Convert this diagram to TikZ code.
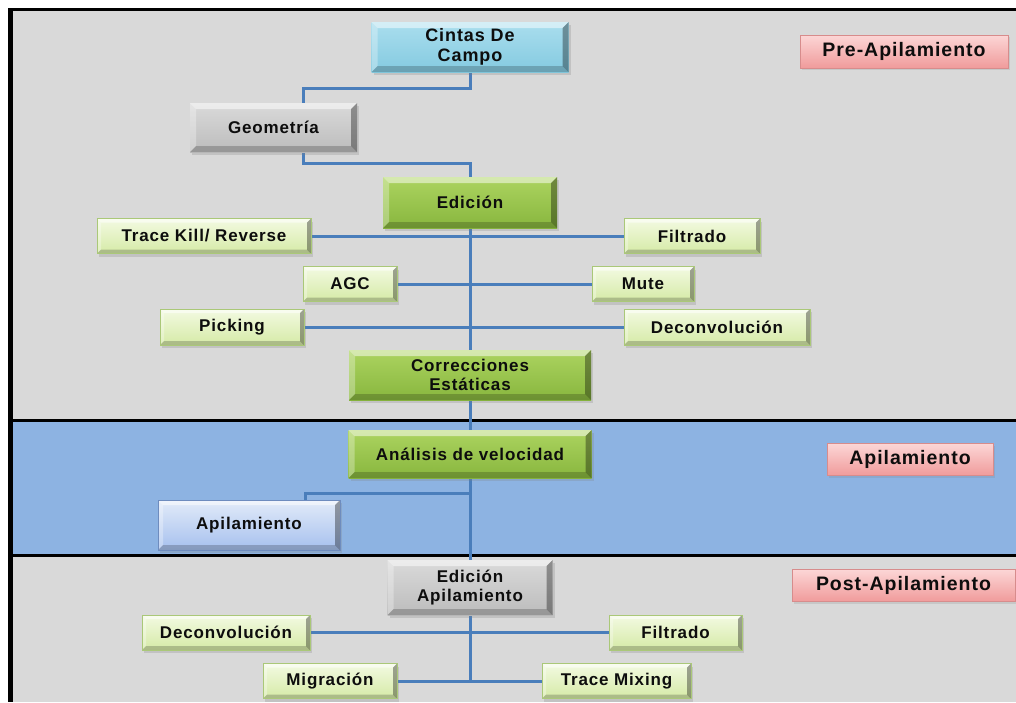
\documentclass[tikz,border=0pt]{standalone}
\usepackage{fontspec}
\setmainfont{Liberation Sans}
\newfontfamily\boxfont{Liberation Sans}[LetterSpace=5]
\usetikzlibrary{shadows}
\definecolor{bggray}{HTML}{D9D9D9}
\definecolor{bandblue}{HTML}{8DB3E2}
\definecolor{conncol}{HTML}{4A7EBB}
\definecolor{txt}{HTML}{0D0D0D}
\pgfdeclarelayer{bg}
\pgfdeclarelayer{lines}
\pgfsetlayers{bg,lines,main}
\tikzset{
  bevel/.style={path picture={
    \fill[white,opacity=.5] (path picture bounding box.north west) -- (path picture bounding box.north east)
      -- ([xshift=-#1,yshift=-#1]path picture bounding box.north east) -- ([xshift=#1,yshift=-#1]path picture bounding box.north west) -- cycle;
    \fill[white,opacity=.3] (path picture bounding box.north west) -- ([xshift=#1,yshift=-#1]path picture bounding box.north west)
      -- ([xshift=#1,yshift=#1]path picture bounding box.south west) -- (path picture bounding box.south west) -- cycle;
    \fill[black,opacity=.35] (path picture bounding box.north east) -- (path picture bounding box.south east)
      -- ([xshift=-#1,yshift=#1]path picture bounding box.south east) -- ([xshift=-#1,yshift=-#1]path picture bounding box.north east) -- cycle;
    \fill[black,opacity=.2] (path picture bounding box.south west) -- (path picture bounding box.south east)
      -- ([xshift=-#1,yshift=#1]path picture bounding box.south east) -- ([xshift=#1,yshift=#1]path picture bounding box.south west) -- cycle;
  }},
  box/.style={inner sep=0pt, align=center, text=txt,
    font=\boxfont\bfseries\fontsize{17}{19}\selectfont,
    drop shadow={shadow xshift=2pt,shadow yshift=-3pt,opacity=.25}},
  cyanbox/.style={box, top color={rgb,255:red,170;green,222;blue,238}, bottom color={rgb,255:red,132;green,202;blue,224}, bevel=6pt},
  graybox/.style={box, top color={rgb,255:red,218;green,218;blue,218}, bottom color={rgb,255:red,188;green,188;blue,188}, bevel=6pt},
  greenbox/.style={box, top color={rgb,255:red,172;green,212;blue,96}, bottom color={rgb,255:red,136;green,182;blue,62}, bevel=6pt},
  lgbox/.style={box, top color={rgb,255:red,243;green,250;blue,226}, bottom color={rgb,255:red,213;green,234;blue,166}, bevel=4pt,
    draw={rgb,255:red,170;green,200;blue,120}, line width=.8pt},
  bluebox/.style={box, top color={rgb,255:red,226;green,235;blue,249}, bottom color={rgb,255:red,166;green,192;blue,238}, bevel=5pt,
    draw={rgb,255:red,110;green,140;blue,190}, line width=.8pt},
  pinklab/.style={inner sep=0pt, text=txt, font=\boxfont\bfseries\fontsize{19.5}{22}\selectfont,
    top color={rgb,255:red,252;green,214;blue,214}, bottom color={rgb,255:red,240;green,155;blue,155},
    draw={rgb,255:red,215;green,140;blue,140}, line width=.8pt,
    drop shadow={shadow xshift=1.5pt,shadow yshift=-2pt,opacity=.2}},
  conn/.style={draw=conncol, line width=3pt}
}
\begin{document}
\begin{tikzpicture}[x=1pt,y=-1pt]
\useasboundingbox (0,0) rectangle (1016,702);
% nodes
\node[cyanbox, minimum width=197pt, minimum height=50pt, font=\boxfont\bfseries\fontsize{18}{20}\selectfont] (cintas) at (470,47) {Cintas De\\Campo};
\node[graybox, minimum width=167pt, minimum height=49pt] (geom) at (273.5,127.5) {Geometría};
\node[greenbox, minimum width=174pt, minimum height=51pt] (edic) at (470,202.5) {Edición};
\node[lgbox, minimum width=214pt, minimum height=35pt] (tk) at (204,236) {Trace Kill/ Reverse};
\node[lgbox, minimum width=136pt, minimum height=35pt] (filt1) at (692,236) {Filtrado};
\node[lgbox, minimum width=94pt, minimum height=35pt] (agc) at (350,284) {AGC};
\node[lgbox, minimum width=102pt, minimum height=35pt] (mute) at (643,284) {Mute};
\node[lgbox, minimum width=144pt, minimum height=36pt] (pick) at (232,327) {Picking};
\node[lgbox, minimum width=186pt, minimum height=36pt] (dec1) at (717,327) {Deconvolución};
\node[greenbox, minimum width=242pt, minimum height=50pt] (corr) at (470,375) {Correcciones\\Estáticas};
\node[greenbox, minimum width=243pt, minimum height=48pt] (anal) at (470,454) {Análisis de velocidad};
\node[bluebox, minimum width=182pt, minimum height=50pt] (apil) at (249,525) {Apilamiento};
\node[graybox, minimum width=165pt, minimum height=55pt] (edap) at (470,587.5) {Edición\\Apilamiento};
\node[lgbox, minimum width=168pt, minimum height=35pt] (dec2) at (226,632.5) {Deconvolución};
\node[lgbox, minimum width=133pt, minimum height=35pt] (filt2) at (675.5,632.5) {Filtrado};
\node[lgbox, minimum width=134pt, minimum height=35pt] (migr) at (330,681) {Migración};
\node[lgbox, minimum width=149pt, minimum height=35pt] (tmix) at (616.5,681) {Trace Mixing};
\node[pinklab, minimum width=208pt, minimum height=33pt] (prelab) at (904,51.5) {Pre-Apilamiento};
\node[pinklab, minimum width=166pt, minimum height=32pt] (apilab) at (910,459.5) {Apilamiento};
\node[pinklab, minimum width=223pt, minimum height=32pt] (postlab) at (903.5,585.5) {Post-Apilamiento};
% background bands
\begin{pgfonlayer}{bg}
  \fill[white] (0,0) rectangle (1016,702);
  \fill[bggray] (10,10) rectangle (1016,420);
  \fill[bandblue] (10,421) rectangle (1016,556);
  \fill[bggray] (10,556) rectangle (1016,702);
  \draw[line width=3pt] (8,9.5) -- (1016,9.5);
  \draw[line width=3.5pt] (8,420.5) -- (1016,420.5);
  \draw[line width=3.5pt] (8,555.5) -- (1016,555.5);
  \draw[line width=5pt] (10.5,8) -- (10.5,702);
\end{pgfonlayer}
% connectors
\coordinate (g1) at (303,88);
\coordinate (e1) at (470,163);
\coordinate (a1) at (305,493);
\begin{pgfonlayer}{lines}
  \draw[conn] (cintas.south) |- (g1) -- (g1 |- geom.north);
  \draw[conn] (geom.south -| g1) |- (e1) -- (edic.north);
  \draw[conn] (edic.south) -- (corr.north);
  \draw[conn] (corr.south) -- (anal.north);
  \draw[conn] (anal.south) -- (edap.north);
  \draw[conn] (tk.east) -- (tk.east -| filt1.west);
  \draw[conn] (agc.east) -- (agc.east -| mute.west);
  \draw[conn] (pick.east) -- (pick.east -| dec1.west);
  \draw[conn] (anal.south |- a1) -- (a1) -- (a1 |- apil.north);
  \draw[conn] (dec2.east) -- (dec2.east -| filt2.west);
  \draw[conn] (migr.east) -- (migr.east -| tmix.west);
  \draw[conn] (edap.south) -- (edap.south |- migr.east);
\end{pgfonlayer}
\end{tikzpicture}
\end{document}
